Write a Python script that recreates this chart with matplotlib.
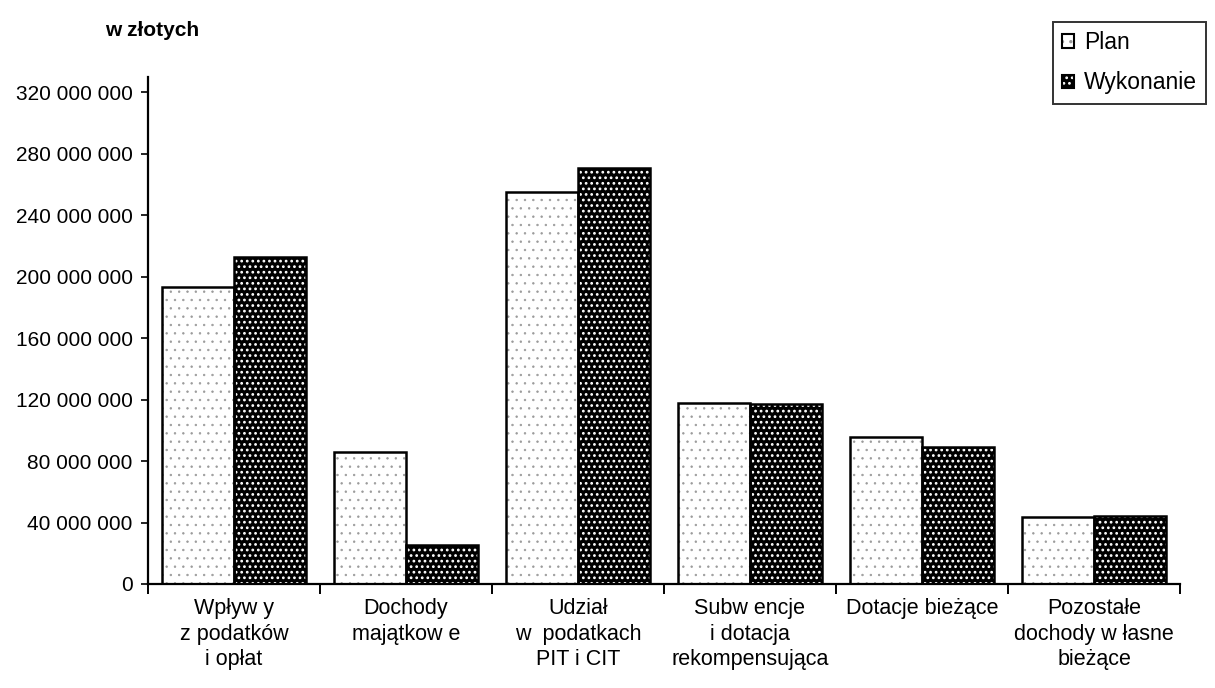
import numpy as np
import matplotlib
matplotlib.use('Agg')
import matplotlib.pyplot as plt
from matplotlib.patches import Patch
from matplotlib.legend_handler import HandlerTuple
from matplotlib.ticker import FuncFormatter

plt.rcParams['font.family'] = ['Liberation Sans', 'DejaVu Sans']
plt.rcParams['hatch.linewidth'] = 1.2

# values (zł)
categories = [
    'Wpływ y\nz podatków\ni opłat',
    'Dochody\nmajątkow e',
    'Udział\nw  podatkach\nPIT i CIT',
    'Subw encje\ni dotacja\nrekompensująca',
    'Dotacje bieżące',
    'Pozostałe\ndochody w łasne\nbieżące',
]
plan = [193_000_000, 86_000_000, 255_000_000, 118_000_000, 95_500_000, 43_500_000]
wykonanie = [213_000_000, 25_500_000, 271_000_000, 117_000_000, 89_000_000, 44_500_000]
y_ticks = list(range(0, 320_000_001, 40_000_000))

fig = plt.figure(figsize=(12.15, 6.88), dpi=100)
ax = fig.add_axes([0.1218, 0.1512, 0.8494, 0.737])

x = np.arange(len(categories))
w = 0.42

# plan: white with sparse light grey dots
with plt.rc_context({'hatch.linewidth': 0.5}):
    ax.bar(x - w / 2, plan, w, facecolor='white', edgecolor='#9a9a9a', hatch='..', linewidth=0, zorder=2)
    h_plan_fill = Patch(facecolor='white', edgecolor='#9a9a9a', hatch='..', linewidth=0)
ax.bar(x - w / 2, plan, w, fill=False, edgecolor='black', linewidth=1.8, zorder=3)
# wykonanie: black with white dots
ax.bar(x + w / 2, wykonanie, w, facecolor='black', edgecolor='white', hatch='...', linewidth=0, zorder=2)
ax.bar(x + w / 2, wykonanie, w, fill=False, edgecolor='black', linewidth=1.8, zorder=3)

ax.set_xlim(-0.5, len(categories) - 0.5)
ax.set_ylim(0, 330_000_000)

for s in ['top', 'right']:
    ax.spines[s].set_visible(False)
for s in ['left', 'bottom']:
    ax.spines[s].set_linewidth(1.6)

ax.set_yticks(y_ticks)
ax.yaxis.set_major_formatter(FuncFormatter(lambda v, p: f'{int(v):,}'.replace(',', ' ')))
ax.tick_params(axis='y', direction='out', length=5, width=1.2, labelsize=15, pad=6)

# ticks at group boundaries, labels at group centres
ax.set_xticks(np.arange(-0.5, len(categories), 1.0))
ax.set_xticklabels([])
ax.set_xticks(x, minor=True)
ax.set_xticklabels(categories, minor=True, fontsize=15.5, linespacing=1.3)
ax.tick_params(axis='x', which='major', direction='out', length=7, width=1.4)
ax.tick_params(axis='x', which='minor', length=0, pad=10)

fig.text(0.0864, 0.956, 'w złotych', fontsize=15, fontweight='bold', va='center', ha='left')

h_plan = (h_plan_fill, Patch(fill=False, edgecolor='black', linewidth=1.5))
h_wyk = (Patch(facecolor='black', edgecolor='white', hatch='...', linewidth=0),
         Patch(fill=False, edgecolor='black', linewidth=1.5))
leg = fig.legend([h_plan, h_wyk], ['Plan', 'Wykonanie'],
                 handler_map={tuple: HandlerTuple(ndivide=1)},
                 loc='upper left', bbox_to_anchor=(1053 / 1215, 1 - 22 / 688),
                 fontsize=16.5, frameon=True, fancybox=False, edgecolor='black',
                 handlelength=0.52, handleheight=0.52, handletextpad=0.44,
                 labelspacing=0.75, borderpad=0.4, borderaxespad=0)
leg.get_frame().set_linewidth(1.4)

fig.savefig('out.png', dpi=100)
